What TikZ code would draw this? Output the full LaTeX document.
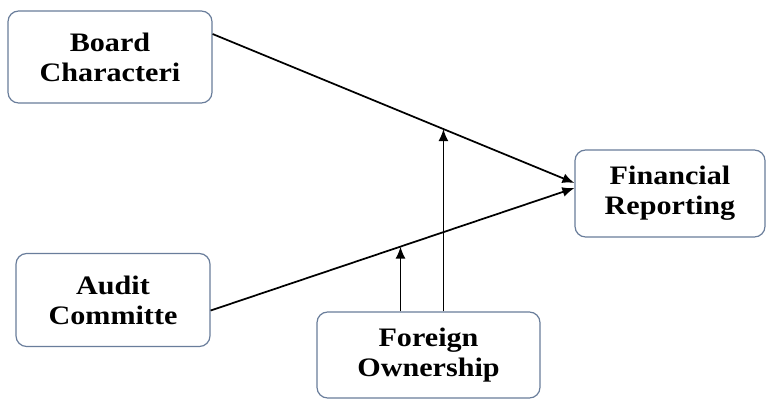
\documentclass[tikz,border=0pt]{standalone}
\usepackage{fontspec}
\setmainfont{Liberation Serif}[FakeStretch=1.13]
\usepackage{xcolor}
\definecolor{boxline}{RGB}{105,125,155}
\usepackage{tikz}
\usetikzlibrary{positioning}
\usetikzlibrary{arrows.meta}
\usetikzlibrary{calc}

\tikzset{
  varbox/.style={draw=boxline,line width=0.9pt,rounded corners=8pt,fill=white,
    align=center,inner sep=0pt,font=\bfseries\fontsize{20}{22.5}\selectfont},
  link/.style={line width=1.3pt,-{Latex[length=9pt,width=7.5pt]}}
}

\begin{document}
\begin{tikzpicture}[x=0.75pt,y=-0.75pt]
\useasboundingbox[fill=white] (0,0) rectangle (769,400);
\node (board) at (110,57) [varbox,minimum width=153pt,minimum height=69pt]{Board\\Characteri};
\node (audit) at (113,300) [varbox,minimum width=145.5pt,minimum height=69.75pt]{Audit\\Committe};
\node (fin) at (670,193.5) [varbox,minimum width=142.5pt,minimum height=65.25pt]{Financial\\Reporting};
\node (own) at (428.5,355) [varbox,minimum width=167.25pt,minimum height=64.5pt]{Foreign\\Ownership};
% ends of the two main links
\coordinate (b1) at ([yshift=17.25pt]board.east);
\coordinate (f1) at ([yshift=7.9pt]fin.west);
\coordinate (a1) at ([yshift=-7.9pt]audit.east);
\coordinate (f2) at ([yshift=4.1pt]fin.west);
\draw[link] (b1) -- (f1);
\draw[link] (a1) -- (f2);
% moderating links
\coordinate (m1) at ($(b1)!0.638!(f1)$);
\coordinate (m2) at ($(a1)!0.522!(f2)$);
\draw[link] (own.north -| m1) -- (m1);
\draw[link] (own.north -| m2) -- (m2);
\end{tikzpicture}
\end{document}
